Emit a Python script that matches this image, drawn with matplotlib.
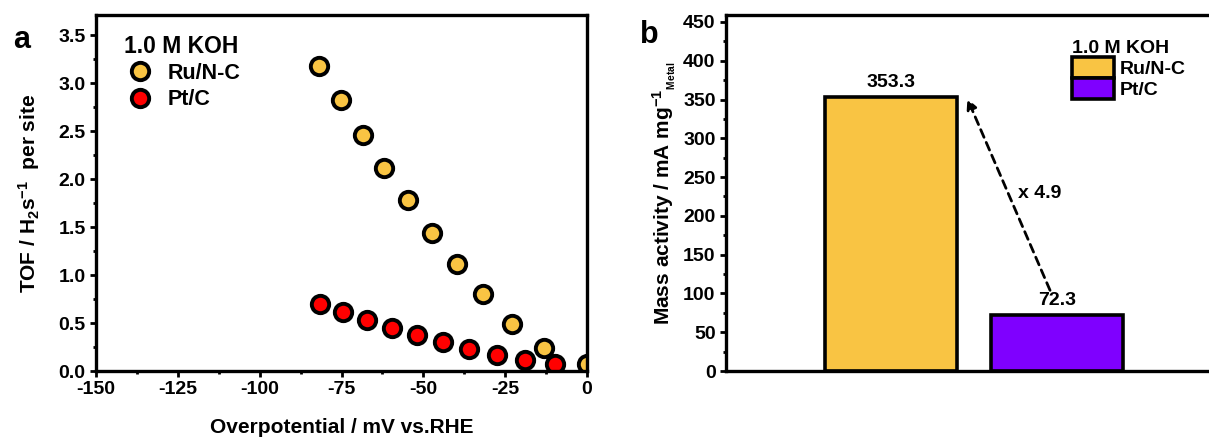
import numpy as np
import matplotlib
matplotlib.use('Agg')
import matplotlib.pyplot as plt
from matplotlib.ticker import MultipleLocator, FormatStrFormatter
from matplotlib.patches import Patch

plt.rcParams['font.family'] = ['Liberation Sans', 'DejaVu Sans']
plt.rcParams['font.weight'] = 'bold'
plt.rcParams['axes.unicode_minus'] = False
plt.rcParams['mathtext.fontset'] = 'custom'
plt.rcParams['mathtext.rm'] = 'Liberation Sans:bold'
plt.rcParams['mathtext.bf'] = 'Liberation Sans:bold'
plt.rcParams['mathtext.it'] = 'Liberation Sans:bold'
plt.rcParams['mathtext.default'] = 'bf'

# panel a: TOF vs overpotential
ru_eta = [-81.8, -75.2, -68.5, -61.9, -54.6, -47.5, -39.8, -31.7, -23.0, -13.0, 0.0]
ru_tof = [3.18, 2.82, 2.46, 2.12, 1.78, 1.44, 1.11, 0.80, 0.49, 0.24, 0.07]
pt_eta = [-81.5, -74.5, -67.3, -59.7, -52.0, -44.1, -36.0, -27.5, -19.0, -9.8]
pt_tof = [0.70, 0.61, 0.53, 0.45, 0.37, 0.30, 0.23, 0.17, 0.11, 0.07]

# panel b: mass activity
catalysts = ['Ru/N-C', 'Pt/C']
mass_act = [353.3, 72.3]
ratio_txt = 'x 4.9'

c_ru = '#F9C443'
c_pt = '#FF0000'
c_bar_pt = '#7F00FF'

fs_tick = 14
fs_lab = 15

fig = plt.figure(figsize=(12.09, 4.38), dpi=100)
ax1 = fig.add_axes([96/1209, 67/438, 491/1209, 356/438])
ax2 = fig.add_axes([726/1209, 67/438, 496/1209, 356/438])

for ax in (ax1, ax2):
    for s in ax.spines.values():
        s.set_linewidth(2.4)
    ax.tick_params(direction='out', width=2, length=4, labelsize=fs_tick)
    ax.tick_params(which='minor', direction='out', width=2, length=2.5)
    ax.tick_params(top=False, right=False, which='both')

ax1.plot(ru_eta, ru_tof, 'o', ms=12.5, mfc=c_ru, mec='black', mew=2.8, label='Ru/N-C')
ax1.plot(pt_eta, pt_tof, 'o', ms=12.5, mfc=c_pt, mec='black', mew=2.8, label='Pt/C')
ax1.set_xlim(-150, 0)
ax1.set_ylim(0, 3.71)
ax1.xaxis.set_major_locator(MultipleLocator(25))
ax1.xaxis.set_minor_locator(MultipleLocator(12.5))
ax1.yaxis.set_major_locator(MultipleLocator(0.5))
ax1.yaxis.set_minor_locator(MultipleLocator(0.25))
ax1.yaxis.set_major_formatter(FormatStrFormatter('%.1f'))
ax1.set_xlabel('Overpotential / mV vs.RHE', fontsize=fs_lab, fontweight='bold', labelpad=14)
ax1.set_ylabel('TOF / H$_2$s$^{-1}$  per site', fontsize=fs_lab, fontweight='bold', labelpad=12)
leg1 = ax1.legend(title='1.0 M KOH', loc='upper left', bbox_to_anchor=(0.058, 0.945),
                  frameon=False, fontsize=15.5, title_fontproperties={'weight': 'bold', 'size': 16.5},
                  alignment='left', handletextpad=0.6, labelspacing=0.25, borderaxespad=0,
                  borderpad=0, handlelength=1.4)
fig.text(22/1209, 1 - 40/438, 'a', fontsize=22, fontweight='bold', ha='center', va='center')

# panel b
xb = np.arange(1, len(catalysts) + 1)
ax2.bar(xb, mass_act, width=0.8, color=[c_ru, c_bar_pt], edgecolor='black', linewidth=2.6)
ax2.set_xlim(0, 3)
ax2.set_ylim(0, 459)
ax2.set_xticks([])
ax2.yaxis.set_major_locator(MultipleLocator(50))
ax2.yaxis.set_minor_locator(MultipleLocator(25))
ax2.set_ylabel('Mass activity / mA mg$^{-1}$$_{_{Metal}}$', fontsize=fs_lab, fontweight='bold', labelpad=4)
for x, v in zip(xb, mass_act):
    ax2.text(x, v + 8, f'{v:.1f}', ha='center', va='bottom', fontsize=14, fontweight='bold')
ax2.annotate('', xy=(1.46, 351), xytext=(1.96, 104),
             arrowprops=dict(arrowstyle='-|>', linestyle=(0, (3, 2)), lw=2, color='black',
                             mutation_scale=15, shrinkA=0, shrinkB=0))
ax2.text(1.9, 229, ratio_txt, ha='center', va='center', fontsize=14, fontweight='bold')
handles = [Patch(facecolor=c_ru, edgecolor='black', linewidth=2.6, label=catalysts[0]),
           Patch(facecolor=c_bar_pt, edgecolor='black', linewidth=2.6, label=catalysts[1])]
leg2 = ax2.legend(handles=handles, title='1.0 M KOH', loc='upper left', bbox_to_anchor=(0.697, 0.93),
                  frameon=False, fontsize=14, title_fontproperties={'weight': 'bold', 'size': 14},
                  alignment='left', handlelength=2.2, handleheight=1.3, handletextpad=0.25,
                  labelspacing=0.0, borderaxespad=0, borderpad=0)
fig.text(649/1209, 1 - 35/438, 'b', fontsize=22, fontweight='bold', ha='center', va='center')

fig.savefig('out.png', dpi=100)
